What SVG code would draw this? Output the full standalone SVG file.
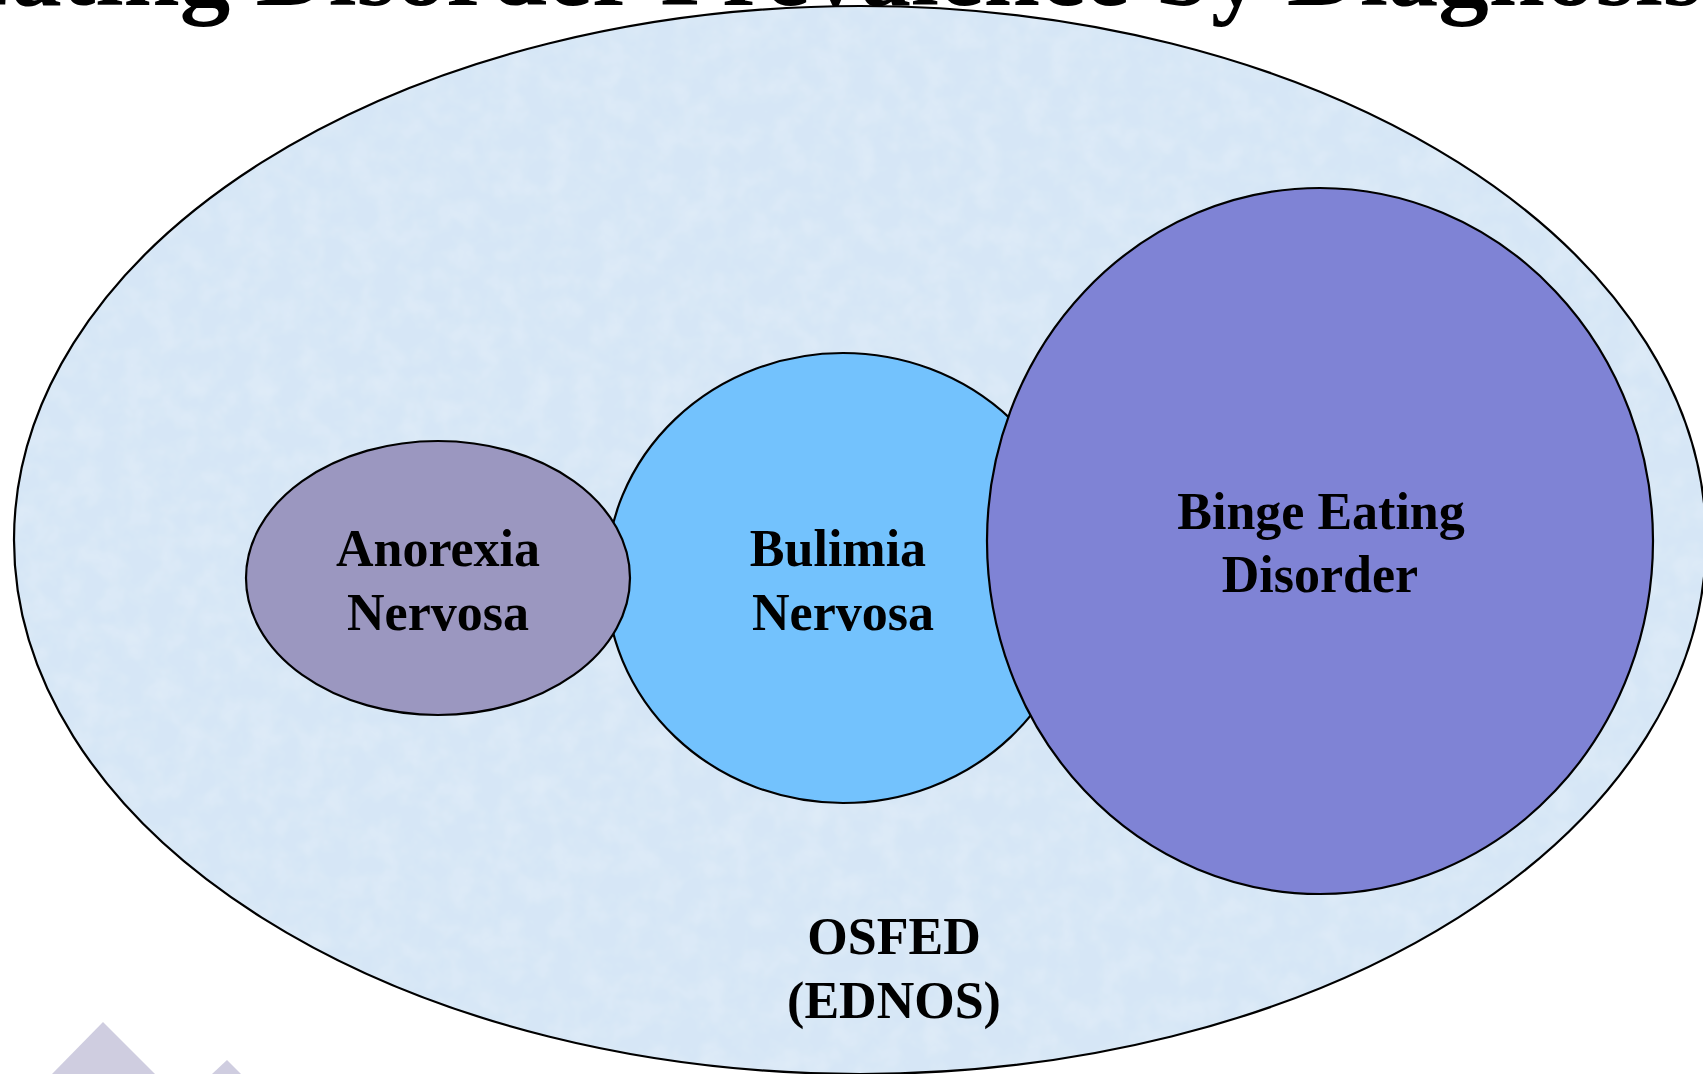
<svg xmlns="http://www.w3.org/2000/svg" width="1703" height="1074" viewBox="0 0 1703 1074">
<style>
.lbl{font-family:"Liberation Serif","Times New Roman",serif;font-weight:bold;font-size:52px;fill:#000;text-anchor:middle}
.title{font-family:"Liberation Serif","Times New Roman",serif;font-weight:bold;font-size:101px;fill:#000}
.shape{stroke:#000;stroke-width:2.2}
.deco{fill:#cfcde0}
</style>
<defs>
<filter id="tex" x="0" y="0" width="100%" height="100%">
<feTurbulence type="fractalNoise" baseFrequency="0.04" numOctaves="3" seed="4" result="n"/>
<feColorMatrix in="n" type="matrix" values="0 0 0 0 1  0 0 0 0 1  0 0 0 0 1  0 0 0 0.35 -0.12" result="w"/>
<feComposite in="w" in2="SourceGraphic" operator="in" result="wm"/>
<feMerge><feMergeNode in="SourceGraphic"/><feMergeNode in="wm"/></feMerge>
</filter>
</defs>
<rect x="0" y="0" width="1703" height="1074" fill="#ffffff"/>
<text class="title" x="-56" y="5">Eating Disorder Prevalence by Diagnosis</text>
<polygon class="deco" points="52,1074 103,1022 155,1074"/>
<polygon class="deco" points="212,1074 227,1060 241,1074"/>
<g id="osfed">
<ellipse cx="860" cy="540" rx="846" ry="534" fill="#d6e6f6" filter="url(#tex)"/>
<ellipse class="shape" cx="860" cy="540" rx="846" ry="534" fill="none"/>
<text class="lbl" x="894" y="954">OSFED</text>
<text class="lbl" x="894" y="1018">(EDNOS)</text>
</g>
<g id="bulimia">
<ellipse class="shape" cx="843" cy="578" rx="237" ry="225" fill="#73c2fd"/>
<text class="lbl" x="838" y="566">Bulimia</text>
<text class="lbl" x="843" y="630">Nervosa</text>
</g>
<g id="anorexia">
<ellipse class="shape" cx="438" cy="578" rx="192" ry="137" fill="#9b97c0"/>
<text class="lbl" x="438" y="566">Anorexia</text>
<text class="lbl" x="438" y="630">Nervosa</text>
</g>
<g id="binge">
<ellipse class="shape" cx="1320" cy="541" rx="333" ry="353" fill="#7f83d5"/>
<text class="lbl" x="1321" y="529">Binge Eating</text>
<text class="lbl" x="1320" y="592">Disorder</text>
</g>
<g id="connectors"></g>
</svg>
